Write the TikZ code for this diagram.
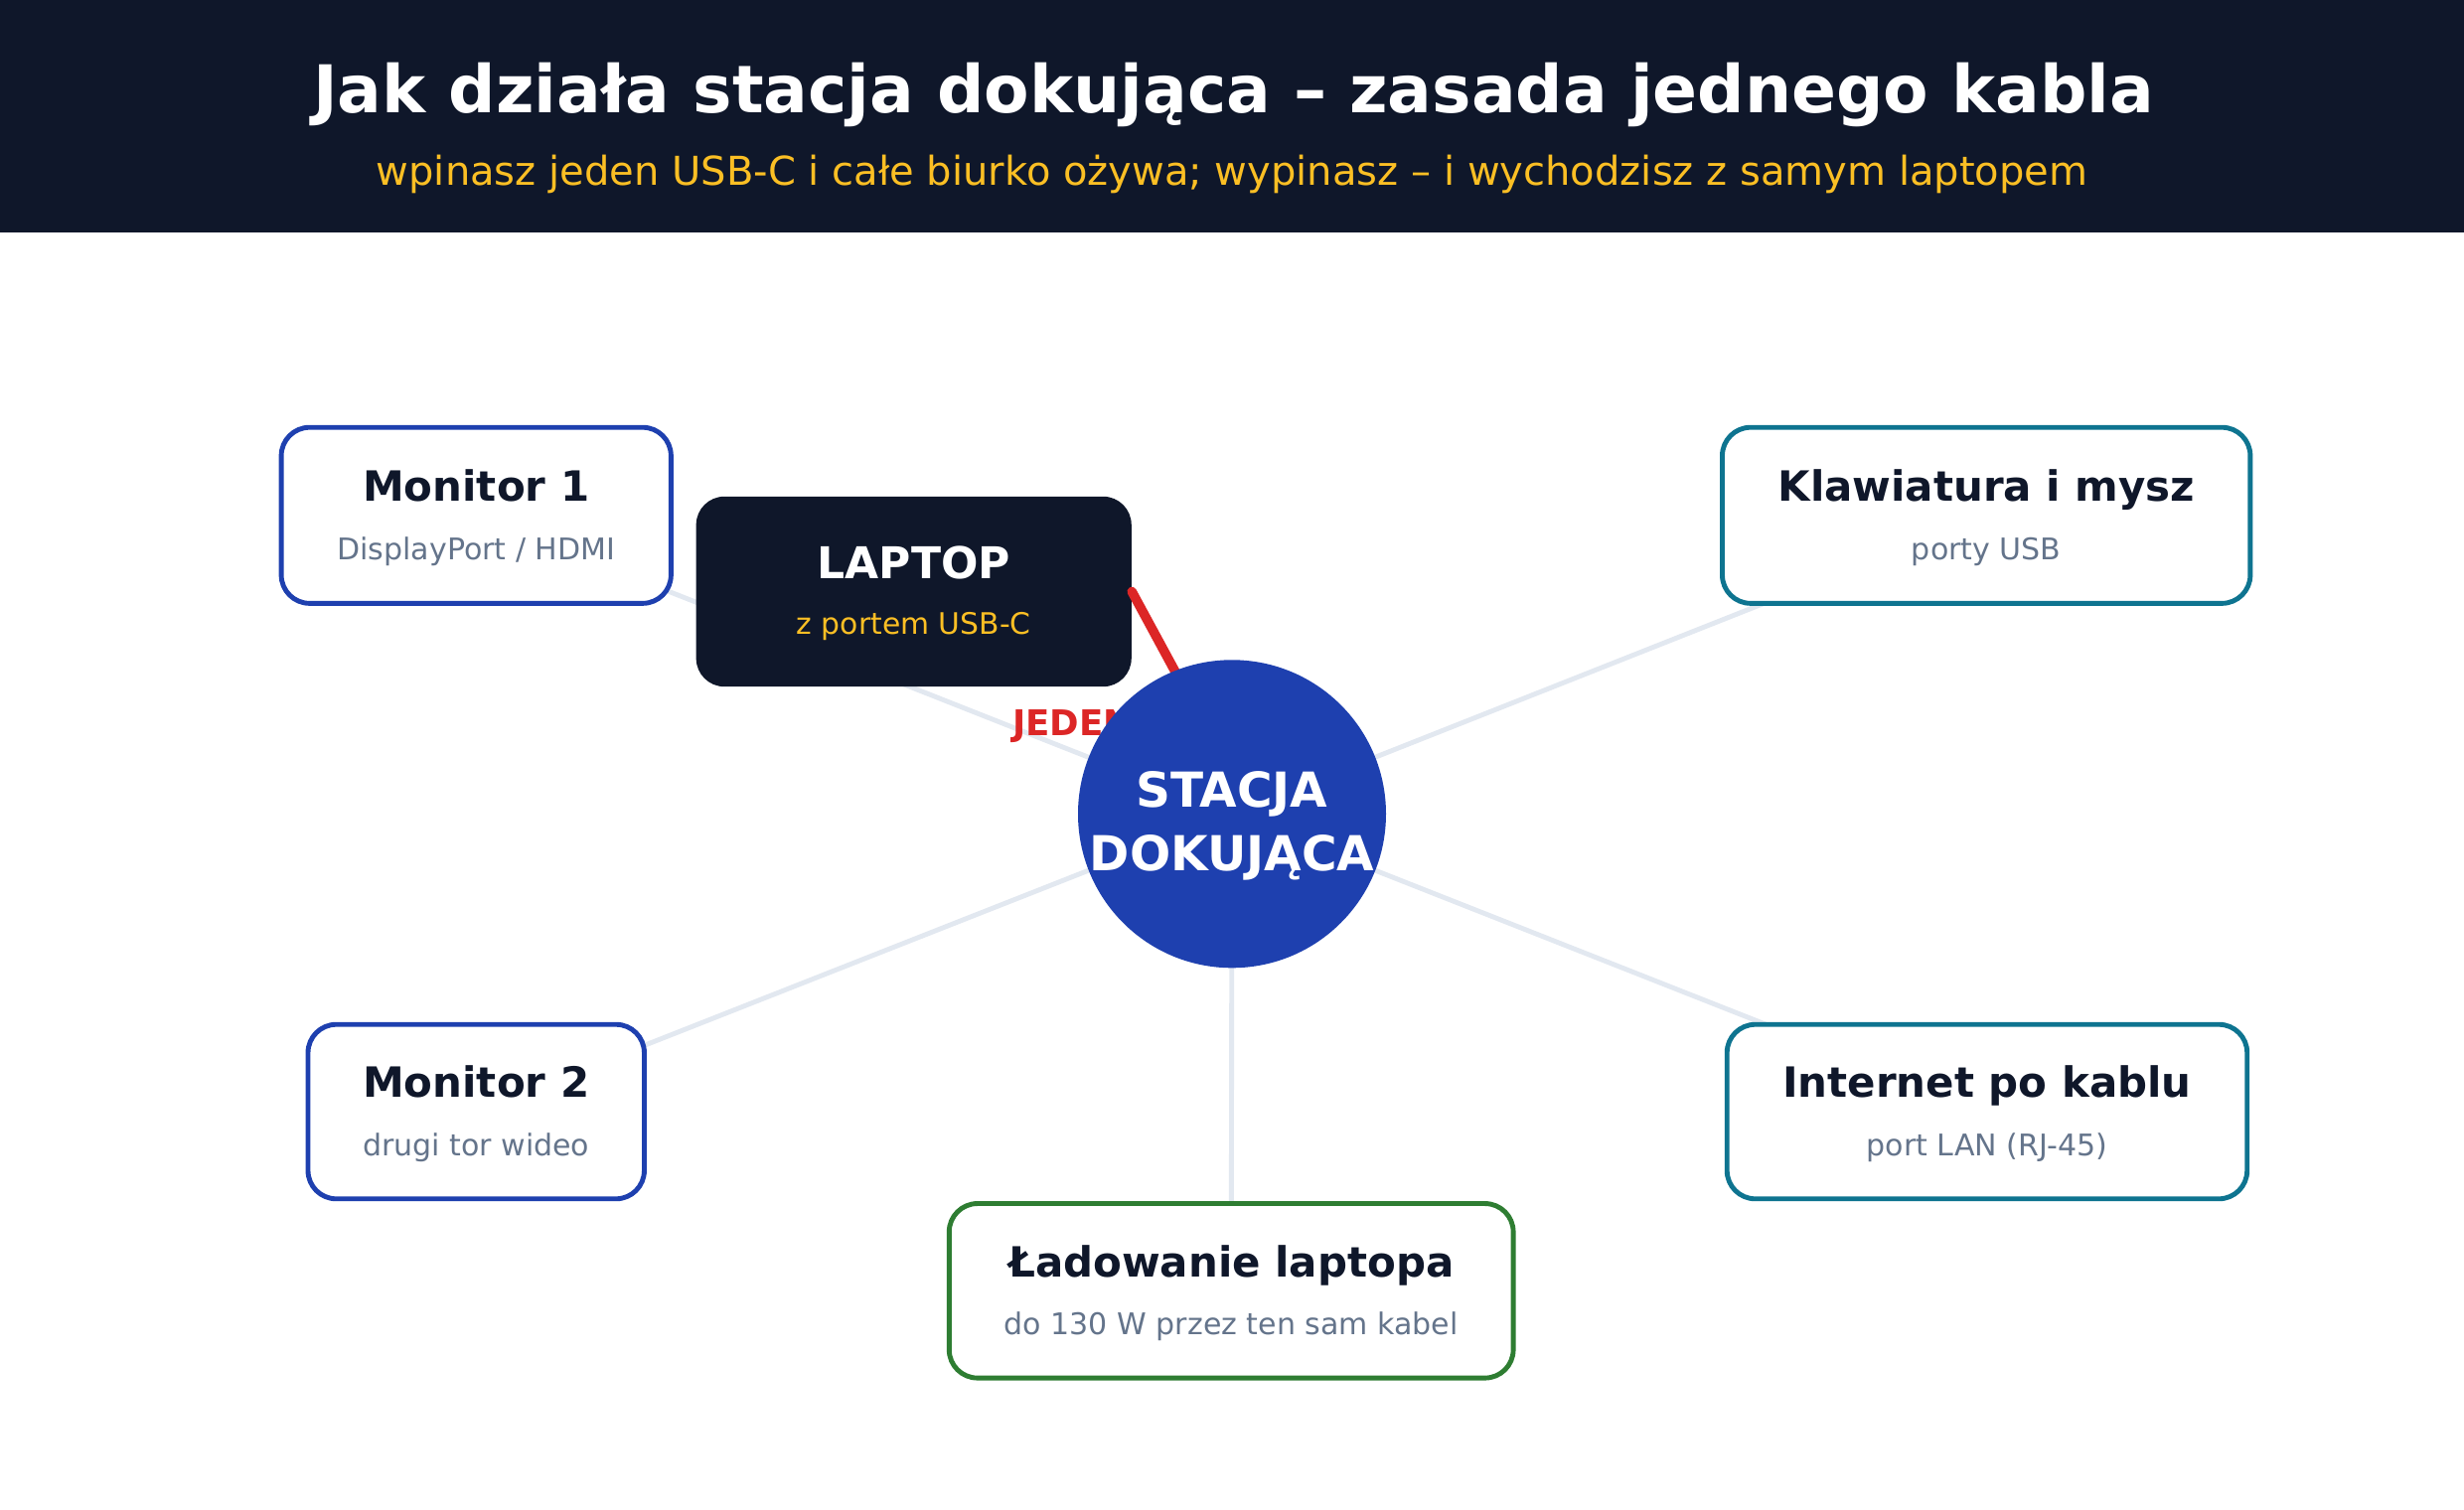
\documentclass[tikz,border=0pt]{standalone}
\usepackage{fontspec}
\setmainfont{DejaVu Sans}
\definecolor{navy}{HTML}{0F172A}
\definecolor{amber}{HTML}{FBBF24}
\definecolor{dblue}{HTML}{1E40AF}
\definecolor{dteal}{HTML}{0E7490}
\definecolor{dgreen}{HTML}{2E7D32}
\definecolor{subgray}{HTML}{64748B}
\definecolor{linkgray}{HTML}{E2E8F0}
\definecolor{cablered}{HTML}{DC2626}
\tikzset{
  px/.style={x=0.025cm,y=-0.025cm},
  card/.style={draw=#1, line width=2.2pt, fill=white, rounded corners=0.45cm, inner sep=0pt},
  ttl/.style={anchor=base, text=navy, font=\fontsize{18.85}{22}\selectfont\bfseries, inner sep=0pt},
  sub/.style={anchor=base, text=subgray, font=\fontsize{13.5}{16}\selectfont, inner sep=0pt},
  link/.style={draw=linkgray, line width=2.2pt},
}
\begin{document}
\begin{tikzpicture}[px]
\useasboundingbox (0,0) rectangle (1568,961);
% header
\fill[navy] (0,0) rectangle (1568,148);
\node[anchor=base, text=white, font=\fontsize{29.8}{34}\selectfont\bfseries, inner sep=0pt] (title) at (785,72) {Jak działa stacja dokująca – zasada jednego kabla};
\node[anchor=base, text=amber, font=\fontsize{18}{21}\selectfont, inner sep=0pt] (subtitle) at (784,118) {wpinasz jeden USB-C i całe biurko ożywa; wypinasz – i wychodzisz z samym laptopem};

% anchor coordinates
\coordinate (cm1) at (303,328);
\coordinate (clap) at (581.5,376.5);
\coordinate (ckb) at (1264,328);
\coordinate (cm2) at (303,707.5);
\coordinate (cnet) at (1264.5,707.5);
\coordinate (cchg) at (783.5,821.5);
\coordinate (cdock) at (784,518);
\coordinate (cableend) at (785,496);

% connectors
\draw[link] (cm1) -- (cdock);
\draw[link] (ckb) -- (cdock);
\draw[link] (cm2) -- (cdock);
\draw[link] (cnet) -- (cdock);
\draw[link] (cchg) -- (cdock);

% cards
\node[card=dblue, minimum width=248*0.025cm, minimum height=112*0.025cm] (m1) at (cm1) {};
\node[ttl] (m1t) at ([yshift=9*0.025cm]m1.center) {Monitor 1};
\node[sub] (m1s) at ([yshift=-28*0.025cm]m1.center) {DisplayPort / HDMI};

\node[card=dteal, minimum width=336*0.025cm, minimum height=112*0.025cm] (kb) at (ckb) {};
\node[ttl] (kbt) at ([yshift=9*0.025cm]kb.center) {Klawiatura i mysz};
\node[sub] (kbs) at ([yshift=-28*0.025cm]kb.center) {porty USB};

\node[card=dblue, minimum width=214*0.025cm, minimum height=111*0.025cm] (m2) at (cm2) {};
\node[ttl] (m2t) at ([yshift=9*0.025cm]m2.center) {Monitor 2};
\node[sub] (m2s) at ([yshift=-28*0.025cm]m2.center) {drugi tor wideo};

\node[card=dteal, minimum width=331*0.025cm, minimum height=111*0.025cm] (net) at (cnet) {};
\node[ttl] (nett) at ([yshift=9*0.025cm]net.center) {Internet po kablu};
\node[sub] (nets) at ([yshift=-28*0.025cm]net.center) {port LAN (RJ-45)};

\node[card=dgreen, minimum width=359*0.025cm, minimum height=111*0.025cm] (chg) at (cchg) {};
\node[ttl] (chgt) at ([yshift=9*0.025cm]chg.center) {Ładowanie laptopa};
\node[sub] (chgs) at ([yshift=-28*0.025cm]chg.center) {do 130 W przez ten sam kabel};

% laptop
\node[fill=navy, rounded corners=0.45cm, minimum width=277*0.025cm, minimum height=121*0.025cm, inner sep=0pt] (lap) at (clap) {};
\node[anchor=base, text=white, font=\fontsize{19.8}{23}\selectfont\bfseries, inner sep=0pt] (lapt) at ([yshift=8.5*0.025cm]lap.center) {LAPTOP};
\node[anchor=base, text=amber, font=\fontsize{13.4}{16}\selectfont, inner sep=0pt] (laps) at ([yshift=-27.5*0.025cm]lap.center) {z portem USB-C};

% red cable and label
\draw[cablered, line width=4.3pt, line cap=round] (lap.east) -- (cableend);
\node[anchor=base west, text=cablered, font=\fontsize{16}{19}\selectfont\bfseries, inner sep=0pt] (jeden) at (644,468) {JEDEN};

% dock
\node[circle, fill=dblue, minimum size=196*0.025cm, inner sep=0pt] (dock) at (cdock) {};
\node[anchor=base, text=white, font=\fontsize{21.8}{26}\selectfont\bfseries, inner sep=0pt] (dock1) at ([yshift=4*0.025cm]dock.center) {STACJA};
\node[anchor=base, text=white, font=\fontsize{21.8}{26}\selectfont\bfseries, inner sep=0pt] (dock2) at ([yshift=-36*0.025cm]dock.center) {DOKUJĄCA};
\end{tikzpicture}
\end{document}
